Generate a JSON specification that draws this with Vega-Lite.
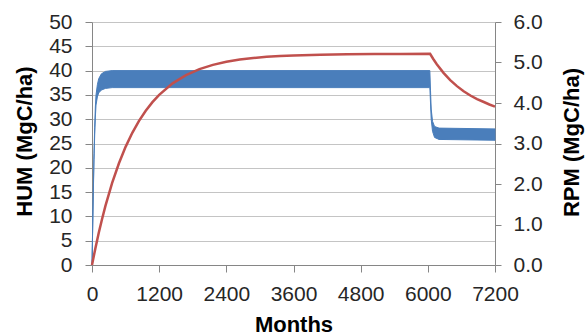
{
  "$schema": "https://vega.github.io/schema/vega-lite/v6.json",
  "width": 403,
  "height": 243,
  "autosize": {"type": "none"},
  "padding": {"left": 92, "top": 22, "right": 90, "bottom": 70},
  "background": "white",
  "config": {
    "view": {"stroke": null},
    "axis": {
      "labelFont": "Liberation Sans",
      "labelFontSize": 21,
      "labelColor": "#262626",
      "titleFont": "Liberation Sans",
      "titleFontSize": 22,
      "titleFontWeight": "bold",
      "titleColor": "#000000",
      "domainColor": "#868686",
      "tickColor": "#868686",
      "gridColor": "#c4c4c4",
      "gridWidth": 1.2
    }
  },
  "datasets": {
    "hum": [
      {"month": 0, "HUM": 0},
      {"month": 60, "HUM": 3.42},
      {"month": 120, "HUM": 6.57},
      {"month": 180, "HUM": 9.47},
      {"month": 240, "HUM": 12.15},
      {"month": 360, "HUM": 16.88},
      {"month": 480, "HUM": 20.89},
      {"month": 600, "HUM": 24.31},
      {"month": 720, "HUM": 27.2},
      {"month": 840, "HUM": 29.66},
      {"month": 960, "HUM": 31.74},
      {"month": 1080, "HUM": 33.51},
      {"month": 1200, "HUM": 35.02},
      {"month": 1440, "HUM": 37.37},
      {"month": 1680, "HUM": 39.07},
      {"month": 1920, "HUM": 40.3},
      {"month": 2160, "HUM": 41.18},
      {"month": 2400, "HUM": 41.81},
      {"month": 2640, "HUM": 42.27},
      {"month": 2880, "HUM": 42.6},
      {"month": 3120, "HUM": 42.84},
      {"month": 3360, "HUM": 43.01},
      {"month": 3600, "HUM": 43.13},
      {"month": 4080, "HUM": 43.28},
      {"month": 4560, "HUM": 43.36},
      {"month": 5040, "HUM": 43.41},
      {"month": 5520, "HUM": 43.43},
      {"month": 6040, "HUM": 43.45},
      {"month": 6100, "HUM": 42.34},
      {"month": 6160, "HUM": 41.32},
      {"month": 6280, "HUM": 39.54},
      {"month": 6400, "HUM": 38.05},
      {"month": 6520, "HUM": 36.8},
      {"month": 6640, "HUM": 35.76},
      {"month": 6760, "HUM": 34.88},
      {"month": 6880, "HUM": 34.15},
      {"month": 7000, "HUM": 33.54},
      {"month": 7100, "HUM": 33.03},
      {"month": 7200, "HUM": 32.6}
    ],
    "rpm": [
      {"month": 0, "lo": 0, "hi": 0},
      {"month": 12, "lo": 0.9, "hi": 0.95},
      {"month": 24, "lo": 1.8, "hi": 1.9},
      {"month": 36, "lo": 2.6, "hi": 2.75},
      {"month": 48, "lo": 3.2, "hi": 3.4},
      {"month": 60, "lo": 3.65, "hi": 3.9},
      {"month": 72, "lo": 3.95, "hi": 4.2},
      {"month": 96, "lo": 4.15, "hi": 4.45},
      {"month": 120, "lo": 4.25, "hi": 4.6},
      {"month": 168, "lo": 4.32, "hi": 4.72},
      {"month": 240, "lo": 4.36, "hi": 4.78},
      {"month": 360, "lo": 4.38, "hi": 4.8},
      {"month": 6036, "lo": 4.38, "hi": 4.8},
      {"month": 6048, "lo": 4.0, "hi": 4.3},
      {"month": 6060, "lo": 3.6, "hi": 3.85},
      {"month": 6084, "lo": 3.3, "hi": 3.55},
      {"month": 6120, "lo": 3.15, "hi": 3.42},
      {"month": 6200, "lo": 3.1, "hi": 3.38},
      {"month": 7200, "lo": 3.08, "hi": 3.36}
    ]
  },
  "layer": [
    {
      "data": {"name": "rpm"},
      "mark": {"type": "area", "color": "#4a7ebb", "opacity": 1, "fillOpacity": 1, "stroke": "#4a7ebb", "strokeWidth": 1},
      "encoding": {
        "x": {
          "field": "month", "type": "quantitative",
          "scale": {"domain": [0, 7200], "nice": false},
          "axis": {
            "values": [0, 1200, 2400, 3600, 4800, 6000, 7200],
            "format": "d",
            "title": "Months",
            "grid": false,
            "tickSize": 7,
            "labelPadding": 28,
            "labelBaseline": "alphabetic",
            "titleBaseline": "alphabetic",
            "titleY": 66,
            "labelFlush": false
          }
        },
        "y": {
          "field": "hi", "type": "quantitative",
          "scale": {"domain": [0, 6], "nice": false},
          "axis": {
            "orient": "right",
            "title": "RPM (MgC/ha)",
            "values": [0, 1, 2, 3, 4, 5, 6],
            "format": ".1f",
            "grid": false,
            "tickSize": 6,
            "labelPadding": 12,
            "labelBaseline": "middle",
            "titleAngle": -90,
            "titleBaseline": "middle",
            "titleAlign": "center",
            "titleX": 76,
            "titleY": 120
          }
        },
        "y2": {"field": "lo"}
      }
    },
    {
      "data": {"name": "hum"},
      "mark": {"type": "line", "color": "#c0504d", "strokeWidth": 2.5},
      "encoding": {
        "x": {"field": "month", "type": "quantitative", "scale": {"domain": [0, 7200], "nice": false}},
        "y": {
          "field": "HUM", "type": "quantitative",
          "scale": {"domain": [0, 50], "nice": false},
          "axis": {
            "orient": "left",
            "title": "HUM (MgC/ha)",
            "values": [0, 5, 10, 15, 20, 25, 30, 35, 40, 45, 50],
            "grid": true,
            "tickSize": 7,
            "labelPadding": 13,
            "labelBaseline": "middle",
            "titleAngle": -90,
            "titleBaseline": "middle",
            "titleAlign": "center",
            "titleX": -68,
            "titleY": 119
          }
        }
      }
    }
  ],
  "resolve": {"scale": {"y": "independent"}}
}
